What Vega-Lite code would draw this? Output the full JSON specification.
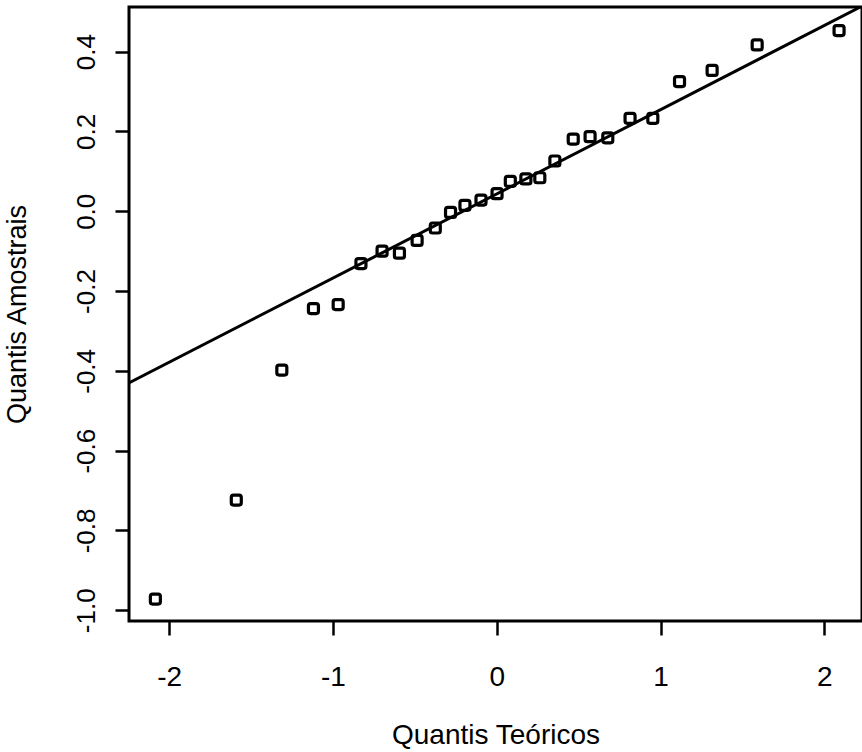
{
  "$schema": "https://vega.github.io/schema/vega-lite/v6.json",
  "width": 733,
  "height": 614,
  "autosize": {"type": "none"},
  "padding": {"left": 129, "top": 7, "right": 0, "bottom": 131},
  "background": "white",
  "config": {
    "view": {"stroke": "black", "strokeWidth": 3},
    "font": "Liberation Sans",
    "axis": {
      "domain": false,
      "grid": false,
      "ticks": true,
      "tickColor": "black",
      "tickWidth": 2.5,
      "tickSize": 14,
      "labelColor": "black",
      "labelFont": "Liberation Sans",
      "titleFont": "Liberation Sans",
      "titleFontWeight": "normal",
      "titleColor": "black"
    }
  },
  "datasets": {
    "amostra": [
      {"teorico": -2.084, "amostral": -0.972},
      {"teorico": -1.590, "amostral": -0.724},
      {"teorico": -1.312, "amostral": -0.398},
      {"teorico": -1.119, "amostral": -0.244},
      {"teorico": -0.968, "amostral": -0.234},
      {"teorico": -0.829, "amostral": -0.131},
      {"teorico": -0.700, "amostral": -0.100},
      {"teorico": -0.594, "amostral": -0.105},
      {"teorico": -0.486, "amostral": -0.073},
      {"teorico": -0.375, "amostral": -0.042},
      {"teorico": -0.282, "amostral": -0.003},
      {"teorico": -0.194, "amostral": 0.015},
      {"teorico": -0.096, "amostral": 0.028},
      {"teorico": 0.002, "amostral": 0.044},
      {"teorico": 0.083, "amostral": 0.075},
      {"teorico": 0.178, "amostral": 0.081},
      {"teorico": 0.263, "amostral": 0.084},
      {"teorico": 0.355, "amostral": 0.126},
      {"teorico": 0.467, "amostral": 0.181},
      {"teorico": 0.570, "amostral": 0.187},
      {"teorico": 0.678, "amostral": 0.184},
      {"teorico": 0.814, "amostral": 0.233},
      {"teorico": 0.953, "amostral": 0.233},
      {"teorico": 1.116, "amostral": 0.325},
      {"teorico": 1.315, "amostral": 0.353},
      {"teorico": 1.590, "amostral": 0.417},
      {"teorico": 2.090, "amostral": 0.453}
    ],
    "reta": [
      {"teorico": -2.4, "amostral": -0.463},
      {"teorico": 2.4, "amostral": 0.550}
    ]
  },
  "layer": [
    {
      "data": {"name": "reta"},
      "mark": {"type": "line", "color": "black", "strokeWidth": 3, "clip": true},
      "encoding": {
        "x": {"field": "teorico", "type": "quantitative"},
        "y": {"field": "amostral", "type": "quantitative"}
      }
    },
    {
      "data": {"name": "amostra"},
      "mark": {
        "type": "point",
        "shape": "M -0.55 -1 L 0.55 -1 Q 1 -1 1 -0.55 L 1 0.55 Q 1 1 0.55 1 L -0.55 1 Q -1 1 -1 0.55 L -1 -0.55 Q -1 -1 -0.55 -1 Z",
        "filled": false,
        "color": "black",
        "strokeWidth": 3.2,
        "size": 100,
        "opacity": 1
      },
      "encoding": {
        "x": {
          "field": "teorico",
          "type": "quantitative",
          "scale": {"domain": [-2.245, 2.23], "nice": false, "zero": false},
          "axis": {
            "title": "Quantis Teóricos",
            "values": [-2, -1, 0, 1, 2],
            "labelExpr": "replace(format(datum.value, 'd'), '−', '-')",
            "labelFontSize": 28,
            "labelPadding": 28,
            "titleFontSize": 28,
            "titlePadding": 30
          }
        },
        "y": {
          "field": "amostral",
          "type": "quantitative",
          "scale": {"domain": [-1.027, 0.512], "nice": false, "zero": false},
          "axis": {
            "title": "Quantis Amostrais",
            "values": [-1, -0.8, -0.6, -0.4, -0.2, 0, 0.2, 0.4],
            "labelExpr": "replace(format(datum.value, '.1f'), '−', '-')",
            "labelAngle": -90,
            "labelAlign": "center",
            "labelBaseline": "bottom",
            "labelFontSize": 26,
            "labelPadding": 16,
            "titleFontSize": 27,
            "titlePadding": 42
          }
        }
      }
    }
  ]
}
